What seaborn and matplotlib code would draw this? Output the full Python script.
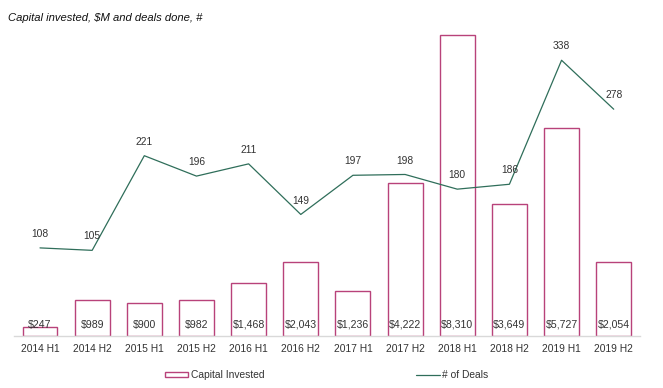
import matplotlib
matplotlib.use("Agg")
import matplotlib.pyplot as plt
import seaborn as sns
import pandas as pd
from matplotlib.patches import Patch
from matplotlib.lines import Line2D

periods = ["2014 H1", "2014 H2", "2015 H1", "2015 H2", "2016 H1", "2016 H2",
           "2017 H1", "2017 H2", "2018 H1", "2018 H2", "2019 H1", "2019 H2"]
capital = [247, 989, 900, 982, 1468, 2043, 1236, 4222, 8310, 3649, 5727, 2054]
deals = [108, 105, 221, 196, 211, 149, 197, 198, 180, 186, 338, 278]

bar_color = "#b8427a"
line_color = "#2f6e5a"
text_color = "#333333"

sns.set_theme(style="white")
plt.rcParams["font.family"] = ["Liberation Sans", "DejaVu Sans"]

df = pd.DataFrame({"period": periods, "capital": capital, "deals": deals})

fig = plt.figure(figsize=(6.63, 3.88), dpi=100)
ax = fig.add_axes([0.021, 0.134, 0.944, 0.778])

sns.barplot(data=df, x="period", y="capital", ax=ax, width=0.67,
            facecolor="white", edgecolor=bar_color, linewidth=1.0)
ax.set_ylim(0, 8330)
ax.set_xlim(-0.5, len(periods) - 0.5)
for s in ["top", "right", "left"]:
    ax.spines[s].set_visible(False)
ax.spines["bottom"].set_color("#d9d9d9")
ax.spines["bottom"].set_linewidth(1.0)
ax.set_yticks([])
ax.set_xlabel("")
ax.set_ylabel("")
ax.tick_params(axis="x", length=0, labelsize=7.4, colors=text_color, pad=6)

for i, v in enumerate(capital):
    ax.annotate(f"${v:,}", xy=(i, 0), xytext=(0, 8), textcoords="offset points",
                ha="center", va="center", fontsize=7.6, color=text_color)

ax2 = ax.twinx()
sns.lineplot(x=list(range(len(periods))), y=deals, ax=ax2, color=line_color,
             linewidth=0.9)
ax2.set_ylim(0, 370)
ax2.set_yticks([])
for s in ax2.spines.values():
    s.set_visible(False)
for i, v in enumerate(deals):
    ax2.annotate(f"{v}", xy=(i, v), xytext=(0, 10), textcoords="offset points",
                 ha="center", va="center", fontsize=7.4, color=text_color)

fig.text(0.012, 0.953, "Capital invested, $M and deals done, #", fontsize=8.1,
         style="italic", color="#111111", ha="left", va="center")

handles = [Patch(facecolor="white", edgecolor=bar_color, linewidth=1.0),
           Line2D([0], [0], color=line_color, linewidth=0.9)]
fig.legend(handles, ["Capital Invested", "# of Deals"], loc="center",
           bbox_to_anchor=(0.4925, 0.033), ncol=2, frameon=False, fontsize=7.4,
           handlelength=2.3, handleheight=0.5, handletextpad=0.2,
           columnspacing=14.8, labelcolor=text_color)

fig.savefig("out.png", dpi=100)
